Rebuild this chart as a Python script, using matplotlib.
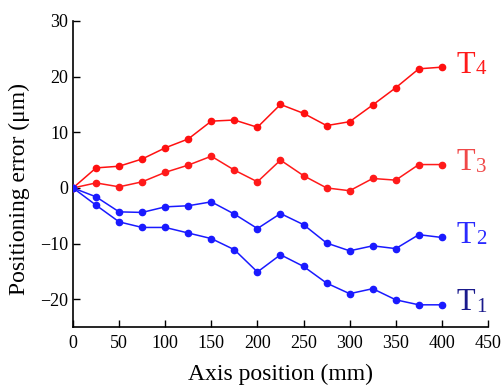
import matplotlib
matplotlib.use("Agg")
import matplotlib.pyplot as plt

plt.rcParams['font.family'] = ['Liberation Serif', 'DejaVu Serif']

x = [0, 25, 50, 75, 100, 125, 150, 175, 200, 225, 250, 275, 300, 325, 350, 375, 400]
t4 = [0, 3.6, 3.9, 5.2, 7.2, 8.8, 12.0, 12.2, 10.9, 15.0, 13.4, 11.2, 11.9, 14.9, 18.0, 21.4, 21.7]
t3 = [0, 0.9, 0.2, 1.1, 2.8, 4.1, 5.7, 3.2, 1.1, 5.0, 2.2, 0.0, -0.5, 1.7, 1.4, 4.2, 4.2]
t2 = [0, -1.6, -4.3, -4.4, -3.4, -3.2, -2.5, -4.7, -7.3, -4.6, -6.6, -9.9, -11.3, -10.4, -10.9, -8.4, -8.9]
t1 = [0, -3.1, -6.1, -7.1, -7.1, -8.1, -9.1, -11.1, -15.1, -12.0, -14.1, -17.1, -19.0, -18.1, -20.1, -21.0, -21.0]

series = [
    (t4, '#ff1010', '#ff1a1a', '4'),
    (t3, '#ff1a1a', '#f04848', '3'),
    (t2, '#1a1aff', '#2a2aff', '2'),
    (t1, '#1a1aff', '#1a1a8c', '1'),
]

fig = plt.figure(figsize=(5.01, 3.88), dpi=100)
ax = fig.add_axes([0.1457, 0.157, 0.8283, 0.789])

for ys, lc, tc, sub in series:
    ax.plot(x, ys, '-o', color=lc, lw=1.1, ms=4.5, zorder=3)
    ax.annotate('T', xy=(416, ys[-1]), xytext=(0, -4), textcoords='offset points',
                color=tc, fontsize=22, ha='left', va='baseline')
    ax.annotate(sub, xy=(416, ys[-1]), xytext=(14, -5), textcoords='offset points',
                color=tc, fontsize=15, ha='left', va='baseline')

ax.set_xlim(0, 450)
ax.set_ylim(-25, 30)
ax.set_xticks(range(0, 451, 50))
ax.set_yticks([-20, -10, 0, 10, 20, 30])
ax.tick_params(direction='in', labelsize=13, length=5, width=1)
ax.tick_params(axis='x', pad=6)
for s in ['top', 'right']:
    ax.spines[s].set_visible(False)
for s in ['left', 'bottom']:
    ax.spines[s].set_linewidth(1.2)
ax.set_xlabel('Axis position (mm)', fontsize=17, labelpad=8)
ax.set_ylabel('Positioning error (μm)', fontsize=17)
ax.yaxis.set_label_coords(-0.104, 0.451)

fig.savefig('out.png', dpi=100)
